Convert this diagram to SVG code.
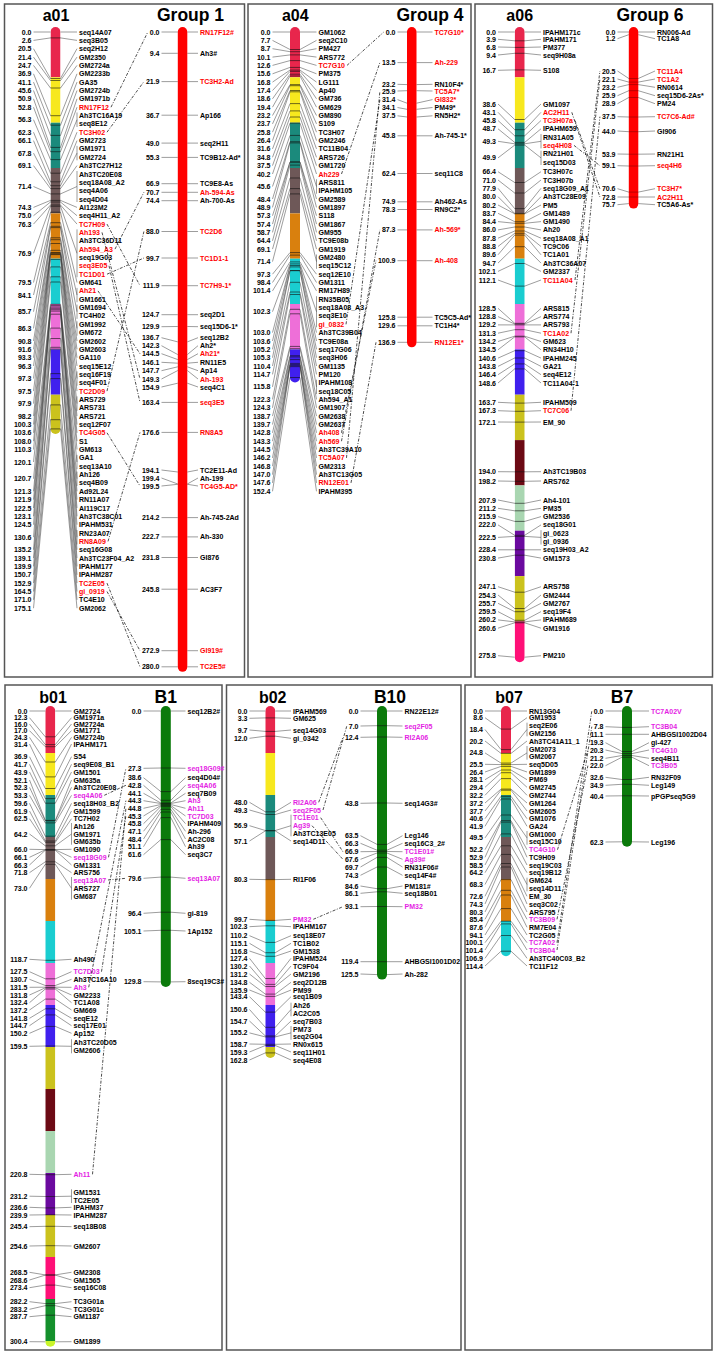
<svg xmlns="http://www.w3.org/2000/svg" width="717" height="1355" viewBox="0 0 717 1355">
<style>
text{font-family:"Liberation Sans",Arial,Helvetica,sans-serif;font-weight:700;font-size:7px;dominant-baseline:central;fill:#000}
.e{text-anchor:end}
.r{fill:#f00}
.p{fill:#e41ee4}
.t{font-size:16px;text-anchor:middle;dominant-baseline:alphabetic}
.gt{font-size:17.5px}
.f{stroke:#3a3a3a;stroke-width:.5;fill:none}
.k{stroke:#111;stroke-width:.6;fill:none}
.kr{stroke:#700;stroke-width:.5;fill:none}
.cn{stroke:#111;stroke-width:.75;fill:none;stroke-dasharray:3 1.5 1 1.5}
.bd{fill:none;stroke:#555;stroke-width:1.5}
.c0{fill:#e8264c}.c1{fill:#f7e81e}.c2{fill:#1b8a7c}.c3{fill:#6e5858}.c4{fill:#d9800e}.c5{fill:#1acdd0}.c6{fill:#ee6fd8}.c7{fill:#4020ee}.c8{fill:#cbc21d}.c9{fill:#6c0a14}.c10{fill:#a9d6b1}.c11{fill:#6b0a9f}.c12{fill:#ff1077}.c13{fill:#14902c}.c14{fill:#c9f52a}
.gr{fill:#f00}.gb{fill:#0b7a0b}
</style>
<defs>
<clipPath id="ca01"><rect x="50.5" y="27" width="10" height="406.9" rx="5"/></clipPath>
<clipPath id="ca04"><rect x="290" y="27" width="10" height="355.5" rx="5"/></clipPath>
<clipPath id="ca06"><rect x="514.7" y="27" width="10" height="635.2" rx="5"/></clipPath>
<clipPath id="cb01"><rect x="45.3" y="706" width="10" height="640.8" rx="5"/></clipPath>
<clipPath id="cb02"><rect x="265.3" y="706" width="10" height="351.9" rx="5"/></clipPath>
<clipPath id="cb07"><rect x="501" y="706" width="10" height="250.2" rx="5"/></clipPath>
</defs>
<rect x="0" y="0" width="717" height="1355" fill="#fff"/>
<g id="panels">
<rect class="bd" x="4.5" y="4" width="240" height="673"/>
<rect class="bd" x="248" y="4" width="223" height="673"/>
<rect class="bd" x="475" y="4" width="237.5" height="673"/>
<rect class="bd" x="5" y="685" width="217" height="665"/>
<rect class="bd" x="226.5" y="685" width="234.5" height="665"/>
<rect class="bd" x="465" y="685" width="247" height="665"/>
</g>

<g id="a01">
<text class="t" x="56" y="21">a01</text>
<g clip-path="url(#ca01)">
<rect class="c0" x="50.5" y="27" width="10" height="50.3"/><rect class="c1" x="50.5" y="77.3" width="10" height="45.4"/><rect class="c2" x="50.5" y="122.7" width="10" height="45.3"/><rect class="c3" x="50.5" y="168" width="10" height="45.4"/><rect class="c4" x="50.5" y="213.4" width="10" height="45.3"/><rect class="c5" x="50.5" y="258.7" width="10" height="45.3"/><rect class="c6" x="50.5" y="304" width="10" height="45.4"/><rect class="c7" x="50.5" y="349.4" width="10" height="45.3"/><rect class="c8" x="50.5" y="394.7" width="10" height="45"/>
</g>
<path class="k" d="M50.5 37.9h10M50.5 78.5h10M50.5 80.5h10M50.5 88h10M50.5 115.7h10M50.5 125.2h10M50.5 135.4h10M50.5 147.4h10M50.5 151.7h10M50.5 159.6h10M50.5 173.2h10M50.5 181.8h10M50.5 185.7h10M50.5 188.6h10M50.5 193.9h10M50.5 200.4h10M50.5 202h10M50.5 205h10M50.5 206.3h10M50.5 212.2h10M50.5 222.7h10M50.5 226.3h10M50.5 227.6h10M50.5 237.8h10M50.5 239.7h10M50.5 243.5h10M50.5 250.3h10M50.5 252.6h10M50.5 253h10M50.5 253.9h10M50.5 254.6h10M50.5 259.4h10M50.5 266.9h10M50.5 276.8h10M50.5 282h10M50.5 304.3h10M50.5 305.6h10M50.5 307h10M50.5 308.3h10M50.5 309.7h10M50.5 311.1h10M50.5 314.2h10M50.5 328.1h10M50.5 338.5h10M50.5 347.3h10M50.5 349.1h10M50.5 373.6h10M50.5 378.6h10M50.5 404.9h10M50.5 419.7h10M50.5 428.9h10"/>
<path class="f" d="M33.5 32L50.5 32M33.5 40.4L50.5 37.9M33.5 48.7L50.5 78.5M33.5 57.1L50.5 80.5M33.5 65.4L50.5 88M33.5 73.8L50.5 115.7M33.5 82.1L50.5 125.2M33.5 90.5L50.5 135.4M33.5 98.8L50.5 147.4M33.5 107.2L50.5 151.7M33.5 119.7L50.5 159.6M33.5 132.2L50.5 173.2M33.5 140.6L50.5 181.8M33.5 153.1L50.5 185.7M33.5 165.6L50.5 188.6M33.5 186.5L50.5 193.9M33.5 207.4L50.5 200.4M33.5 215.7L50.5 202M33.5 224.1L50.5 205M33.5 253.3L50.5 206.3M33.5 282.5L50.5 212.2M33.5 295L50.5 222.7M33.5 311.7L50.5 226.3M33.5 328.4L50.5 227.6M33.5 341L50.5 237.8M33.5 349.3L50.5 239.7M33.5 357.7L50.5 243.5M33.5 366L50.5 250.3M33.5 378.5L50.5 252.6M33.5 391.1L50.5 253M33.5 403.6L50.5 253.9M33.5 416.1L50.5 254.6M33.5 424.5L50.5 259.4M33.5 432.8L50.5 266.9M33.5 441.2L50.5 276.8M33.5 449.5L50.5 282M33.5 462L50.5 304.3M33.5 478.7L50.5 305.6M33.5 491.3L50.5 307M33.5 499.6L50.5 308.3M33.5 508L50.5 309.7M33.5 516.3L50.5 311.1M33.5 524.7L50.5 314.2M33.5 537.2L50.5 328.1M33.5 549.7L50.5 338.5M33.5 558.1L50.5 347.3M33.5 566.4L50.5 349.1M33.5 574.8L50.5 373.6M33.5 583.1L50.5 378.6M33.5 591.5L50.5 404.9M33.5 599.8L50.5 419.7M33.5 608.2L50.5 428.9"/>
<path class="f" d="M60.5 32L77 32M60.5 37.9L77 40.4M60.5 78.5L77 48.7M60.5 80.5L77 57.1M60.5 88L77 65.4M60.5 115.7L77 73.8M60.5 125.2L77 82.1M60.5 135.4L77 90.5M60.5 147.4L77 98.8M60.5 151.7L77 107.2M60.5 159.6L77 119.7M60.5 173.2L77 132.2M60.5 181.8L77 140.6M60.5 185.7L77 153.1M60.5 188.6L77 165.6M60.5 193.9L77 186.5M60.5 200.4L77 207.4M60.5 202L77 215.7M60.5 205L77 224.1M60.5 206.3L77 253.3M60.5 212.2L77 282.5M60.5 222.7L77 295M60.5 226.3L77 311.7M60.5 227.6L77 328.4M60.5 237.8L77 341M60.5 239.7L77 349.3M60.5 243.5L77 357.7M60.5 250.3L77 366M60.5 252.6L77 378.5M60.5 253L77 391.1M60.5 253.9L77 403.6M60.5 254.6L77 416.1M60.5 259.4L77 424.5M60.5 266.9L77 432.8M60.5 276.8L77 441.2M60.5 282L77 449.5M60.5 304.3L77 462M60.5 305.6L77 478.7M60.5 307L77 491.3M60.5 308.3L77 499.6M60.5 309.7L77 508M60.5 311.1L77 516.3M60.5 314.2L77 524.7M60.5 328.1L77 537.2M60.5 338.5L77 549.7M60.5 347.3L77 558.1M60.5 349.1L77 566.4M60.5 373.6L77 574.8M60.5 378.6L77 583.1M60.5 404.9L77 591.5M60.5 419.7L77 599.8M60.5 428.9L77 608.2"/>
<path class="f" d="M77 112.5V127M77 145.9V160.3M77 171V202M77 229.4V277.2M77 287.9V302.2M77 304.6V318.9M77 321.3V335.6M77 371.4V385.7M77 396.4V410.8M77 454.9V469.2M77 471.6V485.9M77 530V544.4"/>
<g class="e" transform="translate(31.5)"><text y="32">0.0</text><text y="40.4">2.6</text><text y="48.7">20.5</text><text y="57.1">21.4</text><text y="65.4">24.7</text><text y="73.8">36.9</text><text y="82.1">41.1</text><text y="90.5">45.6</text><text y="98.8">50.9</text><text y="107.2">52.8</text><text y="119.7">56.3</text><text y="132.2">62.3</text><text y="140.6">66.1</text><text y="153.1">67.8</text><text y="165.6">69.1</text><text y="186.5">71.4</text><text y="207.4">74.3</text><text y="215.7">75.0</text><text y="224.1">76.3</text><text y="253.3">76.9</text><text y="282.5">79.5</text><text y="295">84.1</text><text y="311.7">85.7</text><text y="328.4">86.3</text><text y="341">90.8</text><text y="349.3">91.6</text><text y="357.7">93.3</text><text y="366">96.3</text><text y="378.5">97.3</text><text y="391.1">97.5</text><text y="403.6">97.9</text><text y="416.1">98.2</text><text y="424.5">100.3</text><text y="432.8">103.6</text><text y="441.2">108.0</text><text y="449.5">110.3</text><text y="462">120.1</text><text y="478.7">120.7</text><text y="491.3">121.3</text><text y="499.6">121.9</text><text y="508">122.5</text><text y="516.3">123.1</text><text y="524.7">124.5</text><text y="537.2">130.6</text><text y="549.7">135.2</text><text y="558.1">139.1</text><text y="566.4">139.9</text><text y="574.8">150.7</text><text y="583.1">152.9</text><text y="591.5">164.5</text><text y="599.8">171.0</text><text y="608.2">175.1</text></g>
<g transform="translate(79)"><text y="32">seq14A07</text><text y="40.4">seq3B05</text><text y="48.7">seq2H12</text><text y="57.1">GM2350</text><text y="65.4">GM2724a</text><text y="73.8">GM2233b</text><text y="82.1">GA35</text><text y="90.5">GM2724b</text><text y="98.8">GM1971b</text><text y="107.2" class="r">RN17F12</text><text y="115.5">Ah3TC16A19</text><text y="123.9">seq8E12</text><text y="132.2" class="r">TC3H02</text><text y="140.6">GM2723</text><text y="148.9">GM1971</text><text y="157.3">GM2724</text><text y="165.6">Ah3TC27H12</text><text y="174">Ah3TC20E08</text><text y="182.3">seq18A08_A2</text><text y="190.7">seq4A06</text><text y="199">seq4D04</text><text y="207.4">AI123M2</text><text y="215.7">seq4H11_A2</text><text y="224.1" class="r">TC7H09</text><text y="232.4" class="r">Ah193</text><text y="240.8">Ah3TC36D11</text><text y="249.1" class="r">Ah594_A3</text><text y="257.5">seq19G03</text><text y="265.8" class="r">seq3E05</text><text y="274.2" class="r">TC1D01</text><text y="282.5">GM641</text><text y="290.9" class="r">Ah21</text><text y="299.2">GM1661</text><text y="307.6">GM1694</text><text y="315.9">TC4H02</text><text y="324.3">GM1992</text><text y="332.6">GM672</text><text y="341">GM2602</text><text y="349.3">GM2603</text><text y="357.7">GA110</text><text y="366">seq15E12</text><text y="374.4">seq16F19</text><text y="382.7">seq4F01</text><text y="391.1" class="r">TC2D09</text><text y="399.4">ARS729</text><text y="407.8">ARS731</text><text y="416.1">ARS721</text><text y="424.5">seq12F07</text><text y="432.8" class="r">TC4G05</text><text y="441.2">S1</text><text y="449.5">GM613</text><text y="457.9">GA1</text><text y="466.2">seq13A10</text><text y="474.6">Ah126</text><text y="482.9">seq4B09</text><text y="491.3">Ad92L24</text><text y="499.6">RN11A07</text><text y="508">AI119C17</text><text y="516.3">Ah3TC38C01</text><text y="524.7">IPAHM531</text><text y="533">RN23A07</text><text y="541.4" class="r">RN8A09</text><text y="549.7">seq16G08</text><text y="558.1">Ah3TC23F04_A2</text><text y="566.4">IPAHM177</text><text y="574.8">IPAHM287</text><text y="583.1" class="r">TC2E05</text><text y="591.5" class="r">gi_0919</text><text y="599.8">TC4E10</text><text y="608.2">GM2062</text></g>
</g>

<g id="group1">
<text class="t gt" x="190.5" y="21">Group 1</text>
<path class="f" d="M161.5 32L177.8 32M161.5 53.3L177.8 53.3M161.5 81.6L177.8 81.6M161.5 115.2L177.8 115.2M161.5 143.1L177.8 143.1M161.5 157.4L177.8 157.4M161.5 183.7L177.8 183.7M161.5 192.3L177.8 192.3M161.5 200.7L177.8 200.7M161.5 231.5L177.8 231.5M161.5 258L177.8 258M161.5 285.7L177.8 285.7M161.5 314.7L177.8 314.7M161.5 326.7L177.8 326.5M161.5 337.7L177.8 341.9M161.5 345.7L177.8 354.6M161.5 353.7L177.8 359.6M161.5 362.3L177.8 363.2M161.5 370.7L177.8 366.8M161.5 379L177.8 370.5M161.5 387L177.8 383.2M161.5 402.4L177.8 402.4M161.5 432.4L177.8 432.4M161.5 470L177.8 472M161.5 478L177.8 484M161.5 486L177.8 484.3M161.5 517.6L177.8 517.6M161.5 536.9L177.8 536.9M161.5 557.5L177.8 557.5M161.5 589.2L177.8 589.2M161.5 650.7L177.8 650.7M161.5 666.8L177.8 666.8"/>
<path class="f" d="M187.3 32L198 32M187.3 53.3L198 53.3M187.3 81.6L198 81.6M187.3 115.2L198 115.2M187.3 143.1L198 143.1M187.3 157.4L198 157.4M187.3 183.7L198 183.7M187.3 192.3L198 192.3M187.3 200.7L198 200.7M187.3 231.5L198 231.5M187.3 258L198 258M187.3 285.7L198 285.7M187.3 314.7L198 314.7M187.3 326.5L198 326.7M187.3 341.9L198 337.7M187.3 354.6L198 345.7M187.3 359.6L198 353.7M187.3 363.2L198 362.3M187.3 366.8L198 370.7M187.3 370.5L198 379M187.3 383.2L198 387M187.3 402.4L198 402.4M187.3 432.4L198 432.4M187.3 472L198 470M187.3 484L198 478M187.3 484.3L198 486M187.3 517.6L198 517.6M187.3 536.9L198 536.9M187.3 557.5L198 557.5M187.3 589.2L198 589.2M187.3 650.7L198 650.7M187.3 666.8L198 666.8"/>
<rect class="gr" x="177.8" y="27" width="9.5" height="644.8" rx="4.75"/>
<g class="e" transform="translate(159.5)"><text y="32">0.0</text><text y="53.3">9.4</text><text y="81.6">21.9</text><text y="115.2">36.7</text><text y="143.1">49.0</text><text y="157.4">55.3</text><text y="183.7">66.9</text><text y="192.3">70.7</text><text y="200.7">74.4</text><text y="231.5">88.0</text><text y="258">99.7</text><text y="285.7">111.9</text><text y="314.7">124.7</text><text y="326.7">129.9</text><text y="337.7">136.7</text><text y="345.7">142.3</text><text y="353.7">144.5</text><text y="362.3">146.1</text><text y="370.7">147.7</text><text y="379">149.3</text><text y="387">154.9</text><text y="402.4">163.4</text><text y="432.4">176.6</text><text y="470">194.1</text><text y="478">199.4</text><text y="486">199.5</text><text y="517.6">214.2</text><text y="536.9">222.7</text><text y="557.5">231.8</text><text y="589.2">245.8</text><text y="650.7">272.9</text><text y="666.8">280.0</text></g>
<g transform="translate(200)"><text y="32" class="r">RN17F12#</text><text y="53.3">Ah3#</text><text y="81.6" class="r">TC3H2-Ad</text><text y="115.2">Ap166</text><text y="143.1">seq2H11</text><text y="157.4">TC9B12-Ad*</text><text y="183.7">TC9E8-As</text><text y="192.3" class="r">Ah-594-As</text><text y="200.7">Ah-700-As</text><text y="231.5" class="r">TC2D6</text><text y="258" class="r">TC1D1-1</text><text y="285.7" class="r">TC7H9-1*</text><text y="314.7">seq2D1</text><text y="326.7">seq15D6-1*</text><text y="337.7">seq12B2</text><text y="345.7">Ah2*</text><text y="353.7" class="r">Ah21*</text><text y="362.3">RN11E5</text><text y="370.7">Ap14</text><text y="379" class="r">Ah-193</text><text y="387">seq4C1</text><text y="402.4" class="r">seq3E5</text><text y="432.4" class="r">RN8A5</text><text y="470">TC2E11-Ad</text><text y="478">Ah-199</text><text y="486" class="r">TC4G5-AD*</text><text y="517.6">Ah-745-2Ad</text><text y="536.9">Ah-330</text><text y="557.5">GI876</text><text y="589.2">AC3F7</text><text y="650.7" class="r">GI919#</text><text y="666.8" class="r">TC2E5#</text></g>
</g>

<g id="a04">
<text class="t" x="295.3" y="21">a04</text>
<g clip-path="url(#ca04)">
<rect class="c0" x="290" y="27" width="10" height="50.3"/><rect class="c1" x="290" y="77.3" width="10" height="45.4"/><rect class="c2" x="290" y="122.7" width="10" height="45.3"/><rect class="c3" x="290" y="168" width="10" height="45.4"/><rect class="c4" x="290" y="213.4" width="10" height="45.3"/><rect class="c5" x="290" y="258.7" width="10" height="45.3"/><rect class="c6" x="290" y="304" width="10" height="45.4"/><rect class="c7" x="290" y="349.4" width="10" height="40"/>
</g>
<path class="k" d="M290 49.5h10M290 51.7h10M290 54.9h10M290 60.6h10M290 67.4h10M290 70.1h10M290 71.4h10M290 74.2h10M290 76h10M290 84.6h10M290 85.7h10M290 90.5h10M290 91.8h10M290 103.6h10M290 110.9h10M290 117h10M290 123.1h10M290 135.4h10M290 141.7h10M290 142.9h10M290 161.9h10M290 162.1h10M290 165.1h10M290 178h10M290 188.6h10M290 193.9h10M290 252.6h10M290 255.1h10M290 261.9h10M290 263.9h10M290 265.5h10M290 266.9h10M290 270.5h10M290 270.7h10M290 282.3h10M290 292h10M290 294.5h10M290 309.3h10M290 313.8h10M290 346.4h10M290 348.7h10M290 355.7h10M290 356.9h10M290 359.6h10M290 363.4h10M290 364.8h10M290 365.2h10M290 366.6h10M290 377.5h10"/>
<path class="f" d="M272.5 32L290 32M272.5 40.4L290 49.5M272.5 48.7L290 51.7M272.5 57.1L290 54.9M272.5 65.4L290 60.6M272.5 73.8L290 67.4M272.5 82.1L290 70.1M272.5 90.5L290 71.4M272.5 98.8L290 74.2M272.5 107.2L290 76M272.5 115.5L290 84.6M272.5 123.9L290 85.7M272.5 132.2L290 90.5M272.5 140.6L290 91.8M272.5 148.9L290 103.6M272.5 157.3L290 110.9M272.5 165.6L290 117M272.5 174L290 123.1M272.5 186.5L290 135.4M272.5 199L290 141.7M272.5 207.4L290 142.9M272.5 215.7L290 161.9M272.5 224.1L290 162.1M272.5 232.4L290 165.1M272.5 240.8L290 178M272.5 249.1L290 188.6M272.5 261.6L290 193.9M272.5 274.2L290 252.6M272.5 282.5L290 255.1M272.5 290.9L290 261.9M272.5 311.7L290 263.9M272.5 332.6L290 265.5M272.5 341L290 266.9M272.5 349.3L290 270.5M272.5 357.7L290 270.7M272.5 366L290 282.3M272.5 374.4L290 292M272.5 386.9L290 294.5M272.5 399.4L290 309.3M272.5 407.8L290 313.8M272.5 416.1L290 346.4M272.5 424.5L290 348.7M272.5 432.8L290 355.7M272.5 441.2L290 356.9M272.5 449.5L290 359.6M272.5 457.9L290 363.4M272.5 466.2L290 364.8M272.5 474.6L290 365.2M272.5 482.9L290 366.6M272.5 491.3L290 377.5"/>
<path class="f" d="M300 32L316.5 32M300 49.5L316.5 40.4M300 51.7L316.5 48.7M300 54.9L316.5 57.1M300 60.6L316.5 65.4M300 67.4L316.5 73.8M300 70.1L316.5 82.1M300 71.4L316.5 90.5M300 74.2L316.5 98.8M300 76L316.5 107.2M300 84.6L316.5 115.5M300 85.7L316.5 123.9M300 90.5L316.5 132.2M300 91.8L316.5 140.6M300 103.6L316.5 148.9M300 110.9L316.5 157.3M300 117L316.5 165.6M300 123.1L316.5 174M300 135.4L316.5 186.5M300 141.7L316.5 199M300 142.9L316.5 207.4M300 161.9L316.5 215.7M300 162.1L316.5 224.1M300 165.1L316.5 232.4M300 178L316.5 240.8M300 188.6L316.5 249.1M300 193.9L316.5 261.6M300 252.6L316.5 274.2M300 255.1L316.5 282.5M300 261.9L316.5 290.9M300 263.9L316.5 311.7M300 265.5L316.5 332.6M300 266.9L316.5 341M300 270.5L316.5 349.3M300 270.7L316.5 357.7M300 282.3L316.5 366M300 292L316.5 374.4M300 294.5L316.5 386.9M300 309.3L316.5 399.4M300 313.8L316.5 407.8M300 346.4L316.5 416.1M300 348.7L316.5 424.5M300 355.7L316.5 432.8M300 356.9L316.5 441.2M300 359.6L316.5 449.5M300 363.4L316.5 457.9M300 364.8L316.5 466.2M300 365.2L316.5 474.6M300 366.6L316.5 482.9M300 377.5L316.5 491.3"/>
<path class="f" d="M316.5 179.3V193.7M316.5 254.5V268.8M316.5 296.2V327.3M316.5 379.7V394.1"/>
<g class="e" transform="translate(270.5)"><text y="32">0.0</text><text y="40.4">7.7</text><text y="48.7">8.7</text><text y="57.1">10.1</text><text y="65.4">12.6</text><text y="73.8">15.6</text><text y="82.1">16.8</text><text y="90.5">17.4</text><text y="98.8">18.6</text><text y="107.2">19.4</text><text y="115.5">23.2</text><text y="123.9">23.7</text><text y="132.2">25.8</text><text y="140.6">26.4</text><text y="148.9">31.6</text><text y="157.3">34.8</text><text y="165.6">37.5</text><text y="174">40.2</text><text y="186.5">45.6</text><text y="199">48.4</text><text y="207.4">48.9</text><text y="215.7">57.3</text><text y="224.1">57.4</text><text y="232.4">58.7</text><text y="240.8">64.4</text><text y="249.1">69.1</text><text y="261.6">71.4</text><text y="274.2">97.3</text><text y="282.5">98.4</text><text y="290.9">101.4</text><text y="311.7">102.3</text><text y="332.6">103.0</text><text y="341">103.6</text><text y="349.3">105.2</text><text y="357.7">105.3</text><text y="366">110.4</text><text y="374.4">114.7</text><text y="386.9">115.8</text><text y="399.4">122.3</text><text y="407.8">124.3</text><text y="416.1">138.7</text><text y="424.5">139.7</text><text y="432.8">142.8</text><text y="441.2">143.3</text><text y="449.5">144.5</text><text y="457.9">146.2</text><text y="466.2">146.8</text><text y="474.6">147.0</text><text y="482.9">147.6</text><text y="491.3">152.4</text></g>
<g transform="translate(318.5)"><text y="32">GM1062</text><text y="40.4">seq2C10</text><text y="48.7">PM427</text><text y="57.1">ARS772</text><text y="65.4" class="r">TC7G10</text><text y="73.8">PM375</text><text y="82.1">LG111</text><text y="90.5">Ap40</text><text y="98.8">GM736</text><text y="107.2">GM629</text><text y="115.5">GM890</text><text y="123.9">S109</text><text y="132.2">TC3H07</text><text y="140.6">GM2246</text><text y="148.9">TC11B04</text><text y="157.3">ARS726</text><text y="165.6">GM1720</text><text y="174" class="r">Ah229</text><text y="182.3">ARS811</text><text y="190.7">IPAHM105</text><text y="199">GM2589</text><text y="207.4">GM1897</text><text y="215.7">S118</text><text y="224.1">GM1867</text><text y="232.4">GM955</text><text y="240.8">TC9E08b</text><text y="249.1">GM1919</text><text y="257.5">GM2480</text><text y="265.8">seq15C12</text><text y="274.2">seq12E10</text><text y="282.5">GM1311</text><text y="290.9">RM17H89</text><text y="299.2">RN35B05</text><text y="307.6">seq18A08_A3</text><text y="315.9">seq3E10</text><text y="324.3" class="r">gi_0832</text><text y="332.6">Ah3TC39B04</text><text y="341">TC9E08a</text><text y="349.3">seq17G06</text><text y="357.7">seq3H06</text><text y="366">GM1135</text><text y="374.4">PM120</text><text y="382.7">IPAHM108</text><text y="391.1">seq18C05</text><text y="399.4">Ah594_A1</text><text y="407.8">GM1907</text><text y="416.1">GM2638</text><text y="424.5">GM2637</text><text y="432.8" class="r">Ah408</text><text y="441.2" class="r">Ah569</text><text y="449.5">Ah3TC39A10</text><text y="457.9" class="r">TC5A07</text><text y="466.2">GM2313</text><text y="474.6">Ah3TC13G05</text><text y="482.9" class="r">RN12E01</text><text y="491.3">IPAHM395</text></g>
</g>

<g id="group4">
<text class="t gt" x="430" y="21">Group 4</text>
<path class="f" d="M397.5 32L407 32M397.5 62.6L407 62.6M397.5 84.3L407 84.6M397.5 91L407 90.7M397.5 99.6L407 103.2M397.5 107.5L407 109.3M397.5 115.8L407 117M397.5 135.8L407 135.8M397.5 173.5L407 173.5M397.5 201.8L407 201.8M397.5 209.5L407 209.5M397.5 229.9L407 229.9M397.5 260.7L407 260.7M397.5 317.2L407 317.2M397.5 325.8L407 325.8M397.5 342.3L407 342.3M416.5 32L432.5 32M416.5 62.6L432.5 62.6M416.5 84.6L432.5 84.3M416.5 90.7L432.5 91M416.5 103.2L432.5 99.6M416.5 109.3L432.5 107.5M416.5 117L432.5 115.8M416.5 135.8L432.5 135.8M416.5 173.5L432.5 173.5M416.5 201.8L432.5 201.8M416.5 209.5L432.5 209.5M416.5 229.9L432.5 229.9M416.5 260.7L432.5 260.7M416.5 317.2L432.5 317.2M416.5 325.8L432.5 325.8M416.5 342.3L432.5 342.3"/>
<rect class="gr" x="407" y="27" width="9.5" height="320.3" rx="4.75"/>
<g class="e" transform="translate(395.5)"><text y="32">0.0</text><text y="62.6">13.5</text><text y="84.3">23.2</text><text y="91">25.9</text><text y="99.6">31.4</text><text y="107.5">34.1</text><text y="115.8">37.5</text><text y="135.8">45.8</text><text y="173.5">62.4</text><text y="201.8">74.9</text><text y="209.5">78.3</text><text y="229.9">87.3</text><text y="260.7">100.9</text><text y="317.2">125.8</text><text y="325.8">129.6</text><text y="342.3">136.9</text></g>
<g transform="translate(434.5)"><text y="32" class="r">TC7G10*</text><text y="62.6" class="r">Ah-229</text><text y="84.3">RN10F4*</text><text y="91" class="r">TC5A7*</text><text y="99.6" class="r">GI832*</text><text y="107.5">PM49*</text><text y="115.8">RN5H2*</text><text y="135.8">Ah-745-1*</text><text y="173.5">seq11C8</text><text y="201.8">Ah462-As</text><text y="209.5">RN9C2*</text><text y="229.9" class="r">Ah-569*</text><text y="260.7" class="r">Ah-408</text><text y="317.2">TC5C5-Ad*</text><text y="325.8">TC1H4*</text><text y="342.3" class="r">RN12E1*</text></g>
</g>

<g id="a06">
<text class="t" x="519.7" y="21">a06</text>
<g clip-path="url(#ca06)">
<rect class="c0" x="514.7" y="27" width="10" height="50.3"/><rect class="c1" x="514.7" y="77.3" width="10" height="45.4"/><rect class="c2" x="514.7" y="122.7" width="10" height="45.3"/><rect class="c3" x="514.7" y="168" width="10" height="45.4"/><rect class="c4" x="514.7" y="213.4" width="10" height="45.3"/><rect class="c5" x="514.7" y="258.7" width="10" height="45.3"/><rect class="c6" x="514.7" y="304" width="10" height="45.4"/><rect class="c7" x="514.7" y="349.4" width="10" height="45.3"/><rect class="c8" x="514.7" y="394.7" width="10" height="45.4"/><rect class="c9" x="514.7" y="440.1" width="10" height="45.3"/><rect class="c10" x="514.7" y="485.4" width="10" height="45.3"/><rect class="c11" x="514.7" y="530.7" width="10" height="45.4"/><rect class="c8" x="514.7" y="576.1" width="10" height="45.3"/><rect class="c12" x="514.7" y="621.4" width="10" height="45"/>
</g>
<path class="k" d="M514.7 40.8h10M514.7 47.4h10M514.7 53.3h10M514.7 69.9h10M514.7 119.5h10M514.7 129.7h10M514.7 135.8h10M514.7 142.4h10M514.7 143.8h10M514.7 145.1h10M514.7 182.5h10M514.7 193h10M514.7 208.6h10M514.7 213.4h10M514.7 213.8h10M514.7 221.7h10M514.7 223.3h10M514.7 227h10M514.7 231h10M514.7 233.3h10M514.7 235.1h10M514.7 246.7h10M514.7 263.5h10M514.7 286.1h10M514.7 323.3h10M514.7 324h10M514.7 324.9h10M514.7 329.7h10M514.7 336.2h10M514.7 336.9h10M514.7 350.7h10M514.7 358h10M514.7 363.9h10M514.7 368.9h10M514.7 403.1h10M514.7 411.3h10M514.7 422.1h10M514.7 471.8h10M514.7 481.3h10M514.7 503.3h10M514.7 510.8h10M514.7 521.4h10M514.7 535.3h10M514.7 536.4h10M514.7 549.8h10M514.7 555.2h10M514.7 592.2h10M514.7 608.5h10M514.7 611.7h10M514.7 620.3h10M514.7 621.9h10M514.7 622.8h10"/>
<path class="f" d="M498 32L514.7 32M498 39.3L514.7 40.8M498 47L514.7 47.4M498 55L514.7 53.3M498 70.3L514.7 69.9M498 104L514.7 119.5M498 112.3L514.7 129.7M498 120.5L514.7 135.8M498 128.8L514.7 142.4M498 141.3L514.7 143.8M498 157.9L514.7 145.1M498 171.7L514.7 182.5M498 180L514.7 193M498 188.3L514.7 208.6M498 196.7L514.7 213.4M498 205L514.7 213.8M498 213.3L514.7 221.7M498 221.6L514.7 223.3M498 229.9L514.7 227M498 238.2L514.7 231M498 246.5L514.7 233.3M498 254.8L514.7 235.1M498 263.1L514.7 246.7M498 271.4L514.7 263.5M498 280L514.7 286.1M498 308.3L514.7 323.3M498 316.6L514.7 324M498 324.9L514.7 324.9M498 333.2L514.7 329.7M498 341.5L514.7 336.2M498 349.8L514.7 336.9M498 358.1L514.7 350.7M498 366.4L514.7 358M498 374.7L514.7 363.9M498 383L514.7 368.9M498 402.3L514.7 403.1M498 410.7L514.7 411.3M498 422L514.7 422.1M498 471.7L514.7 471.8M498 481L514.7 481.3M498 500L514.7 503.3M498 508.3L514.7 510.8M498 516.6L514.7 521.4M498 524.9L514.7 535.3M498 537.4L514.7 536.4M498 549.8L514.7 549.8M498 558.1L514.7 555.2M498 586.7L514.7 592.2M498 595L514.7 608.5M498 603.3L514.7 611.7M498 611.6L514.7 620.3M498 619.9L514.7 621.9M498 628.2L514.7 622.8M498 655.7L514.7 657.2"/>
<path class="f" d="M524.7 32L541 32M524.7 40.8L541 39.3M524.7 47.4L541 47M524.7 53.3L541 55M524.7 69.9L541 70.3M524.7 119.5L541 104M524.7 129.7L541 112.3M524.7 135.8L541 120.5M524.7 142.4L541 128.8M524.7 143.8L541 141.3M524.7 145.1L541 157.9M524.7 182.5L541 171.7M524.7 193L541 180M524.7 208.6L541 188.3M524.7 213.4L541 196.7M524.7 213.8L541 205M524.7 221.7L541 213.3M524.7 223.3L541 221.6M524.7 227L541 229.9M524.7 231L541 238.2M524.7 233.3L541 246.5M524.7 235.1L541 254.8M524.7 246.7L541 263.1M524.7 263.5L541 271.4M524.7 286.1L541 280M524.7 323.3L541 308.3M524.7 324L541 316.6M524.7 324.9L541 324.9M524.7 329.7L541 333.2M524.7 336.2L541 341.5M524.7 336.9L541 349.8M524.7 350.7L541 358.1M524.7 358L541 366.4M524.7 363.9L541 374.7M524.7 368.9L541 383M524.7 403.1L541 402.3M524.7 411.3L541 410.7M524.7 422.1L541 422M524.7 471.8L541 471.7M524.7 481.3L541 481M524.7 503.3L541 500M524.7 510.8L541 508.3M524.7 521.4L541 516.6M524.7 535.3L541 524.9M524.7 536.4L541 537.4M524.7 549.8L541 549.8M524.7 555.2L541 558.1M524.7 592.2L541 586.7M524.7 608.5L541 595M524.7 611.7L541 603.3M524.7 620.3L541 611.6M524.7 621.9L541 619.9M524.7 622.8L541 628.2M524.7 657.2L541 655.7"/>
<path class="f" d="M541 134.1V148.4M541 150.7V165M541 530.2V544.5"/>
<g class="e" transform="translate(496)"><text y="32">0.0</text><text y="39.3">3.9</text><text y="47">6.8</text><text y="55">9.4</text><text y="70.3">16.7</text><text y="104">38.6</text><text y="112.3">43.1</text><text y="120.5">45.8</text><text y="128.8">48.7</text><text y="141.3">49.3</text><text y="157.9">49.9</text><text y="171.7">66.4</text><text y="180">71.0</text><text y="188.3">77.9</text><text y="196.7">80.0</text><text y="205">80.2</text><text y="213.3">83.7</text><text y="221.6">84.4</text><text y="229.9">86.0</text><text y="238.2">87.8</text><text y="246.5">88.8</text><text y="254.8">89.6</text><text y="263.1">94.7</text><text y="271.4">102.1</text><text y="280">112.1</text><text y="308.3">128.5</text><text y="316.6">128.8</text><text y="324.9">129.2</text><text y="333.2">131.3</text><text y="341.5">134.2</text><text y="349.8">134.5</text><text y="358.1">140.6</text><text y="366.4">143.8</text><text y="374.7">146.4</text><text y="383">148.6</text><text y="402.3">163.7</text><text y="410.7">167.3</text><text y="422">172.1</text><text y="471.7">194.0</text><text y="481">198.2</text><text y="500">207.9</text><text y="508.3">211.2</text><text y="516.6">215.9</text><text y="524.9">222.0</text><text y="537.4">222.5</text><text y="549.8">228.4</text><text y="558.1">230.8</text><text y="586.7">247.1</text><text y="595">254.3</text><text y="603.3">255.7</text><text y="611.6">259.5</text><text y="619.9">260.2</text><text y="628.2">260.6</text><text y="655.7">275.8</text></g>
<g transform="translate(543)"><text y="32">IPAHM171c</text><text y="39.3">IPAHM171</text><text y="47">PM377</text><text y="55">seq9H08a</text><text y="70.3">S108</text><text y="104">GM1097</text><text y="112.3" class="r">AC2H11</text><text y="120.5" class="r">TC3H07a</text><text y="128.8">IPAHM659</text><text y="137.1">RN31A05</text><text y="145.4" class="r">seq4H08</text><text y="153.7">RN21H01</text><text y="162">seq15D03</text><text y="171.7">TC3H07c</text><text y="180">TC3H07b</text><text y="188.3">seq18G09_A1</text><text y="196.7">Ah3TC28E09</text><text y="205">PM5</text><text y="213.3">GM1489</text><text y="221.6">GM1490</text><text y="229.9">Ah20</text><text y="238.2">seq18A08_A1</text><text y="246.5">TC9C06</text><text y="254.8">TC1A01</text><text y="263.1">Ah3TC36A07</text><text y="271.4">GM2337</text><text y="280" class="r">TC11A04</text><text y="308.3">ARS815</text><text y="316.6">ARS774</text><text y="324.9">ARS793</text><text y="333.2" class="r">TC1A02</text><text y="341.5">GM623</text><text y="349.8">RN34H10</text><text y="358.1">IPAHM245</text><text y="366.4">GA21</text><text y="374.7">seq4E12</text><text y="383">TC11A04-1</text><text y="402.3">IPAHM509</text><text y="410.7" class="r">TC7C06</text><text y="422">EM_90</text><text y="471.7">Ah3TC19B03</text><text y="481">ARS762</text><text y="500">Ah4-101</text><text y="508.3">PM35</text><text y="516.6">GM2536</text><text y="524.9">seq18G01</text><text y="533.2">gi_0623</text><text y="541.5">gi_0936</text><text y="549.8">seq19H03_A2</text><text y="558.1">GM1573</text><text y="586.7">ARS758</text><text y="595">GM2444</text><text y="603.3">GM2767</text><text y="611.6">seq19F4</text><text y="619.9">IPAHM689</text><text y="628.2">GM1916</text><text y="655.7">PM210</text></g>
</g>

<g id="group6">
<text class="t gt" x="650" y="21">Group 6</text>
<path class="f" d="M617.5 32L628.8 32M617.5 38.7L628.8 34.7M617.5 71L628.8 78.5M617.5 79L628.8 82.1M617.5 87.3L628.8 84.6M617.5 95.7L628.8 90.7M617.5 103.7L628.8 97.5M617.5 116.7L628.8 117M617.5 131L628.8 131.7M617.5 154L628.8 154.2M617.5 165.7L628.8 166M617.5 188.7L628.8 192.1M617.5 197L628.8 197M617.5 204.7L628.8 203.6M638.3 32L655 32M638.3 34.7L655 38.7M638.3 78.5L655 71M638.3 82.1L655 79M638.3 84.6L655 87.3M638.3 90.7L655 95.7M638.3 97.5L655 103.7M638.3 117L655 116.7M638.3 131.7L655 131M638.3 154.2L655 154M638.3 166L655 165.7M638.3 192.1L655 188.7M638.3 197L655 197M638.3 203.6L655 204.7"/>
<rect class="gr" x="628.8" y="27" width="9.5" height="181.6" rx="4.75"/>
<path class="kr" d="M628.8 78.5h9.5M628.8 82.1h9.5M628.8 84.6h9.5M628.8 90.7h9.5M628.8 97.5h9.5M628.8 117h9.5M628.8 131.7h9.5M628.8 154.2h9.5M628.8 166h9.5M628.8 192.1h9.5M628.8 197h9.5"/>
<g class="e" transform="translate(615.5)"><text y="32">0.0</text><text y="38.7">1.2</text><text y="71">20.5</text><text y="79">22.1</text><text y="87.3">23.2</text><text y="95.7">25.9</text><text y="103.7">28.9</text><text y="116.7">37.5</text><text y="131">44.0</text><text y="154">53.9</text><text y="165.7">59.1</text><text y="188.7">70.6</text><text y="197">72.8</text><text y="204.7">75.7</text></g>
<g transform="translate(657)"><text y="32">RN006-Ad</text><text y="38.7">TC1A8</text><text y="71" class="r">TC11A4</text><text y="79" class="r">TC1A2</text><text y="87.3">RN0614</text><text y="95.7">seq15D6-2As*</text><text y="103.7">PM24</text><text y="116.7" class="r">TC7C6-Ad#</text><text y="131">GI906</text><text y="154">RN21H1</text><text y="165.7" class="r">seq4H6</text><text y="188.7" class="r">TC3H7*</text><text y="197" class="r">AC2H11</text><text y="204.7">TC5A6-As*</text></g>
</g>

<g id="b01">
<text class="t" x="53" y="703">b01</text>
<g clip-path="url(#cb01)">
<rect class="c0" x="45.3" y="706" width="10" height="47"/><rect class="c1" x="45.3" y="753" width="10" height="42"/><rect class="c2" x="45.3" y="795" width="10" height="42"/><rect class="c3" x="45.3" y="837" width="10" height="42"/><rect class="c4" x="45.3" y="879" width="10" height="42"/><rect class="c5" x="45.3" y="921" width="10" height="42"/><rect class="c6" x="45.3" y="963" width="10" height="42"/><rect class="c7" x="45.3" y="1005" width="10" height="42"/><rect class="c8" x="45.3" y="1047" width="10" height="42"/><rect class="c9" x="45.3" y="1089" width="10" height="42"/><rect class="c10" x="45.3" y="1131" width="10" height="42"/><rect class="c11" x="45.3" y="1173" width="10" height="42"/><rect class="c8" x="45.3" y="1215" width="10" height="42"/><rect class="c12" x="45.3" y="1257" width="10" height="42"/><rect class="c13" x="45.3" y="1299" width="10" height="42"/><rect class="c14" x="45.3" y="1341" width="10" height="8"/>
</g>
<path class="k" d="M45.3 736.8h10M45.3 744.6h10M45.3 746.7h10M45.3 762h10M45.3 776.9h10M45.3 788.5h10M45.3 798.6h10M45.3 803.2h10M45.3 820.4h10M45.3 820.8h10M45.3 822.9h10M45.3 836.2h10M45.3 841h10M45.3 842.3h10M45.3 845.8h10M45.3 849.6h10M45.3 849.8h10M45.3 850.2h10M45.3 861.8h10M45.3 864.3h10M45.3 960.3h10M45.3 978.8h10M45.3 985.5h10M45.3 987.2h10M45.3 987.8h10M45.3 989h10M45.3 999.1h10M45.3 1008.8h10M45.3 1014.9h10M45.3 1026.4h10M45.3 1046h10M45.3 1174.7h10M45.3 1196.5h10M45.3 1207.9h10M45.3 1214.8h10M45.3 1226.3h10M45.3 1245.7h10M45.3 1274.9h10M45.3 1275.1h10M45.3 1285.1h10M45.3 1303.6h10M45.3 1305.7h10M45.3 1315.2h10"/>
<path class="f" d="M29.5 711L45.3 711M29.5 717.7L45.3 736.8M29.5 724L45.3 744.6M29.5 730.7L45.3 746.7M29.5 737.3L45.3 762M29.5 744L45.3 776.9M29.5 756.7L45.3 788.5M29.5 764.3L45.3 798.6M29.5 772L45.3 803.2M29.5 780L45.3 820.4M29.5 787.3L45.3 820.8M29.5 795.3L45.3 822.9M29.5 803.3L45.3 836.2M29.5 811L45.3 841M29.5 818.7L45.3 842.3M29.5 834L45.3 845.8M29.5 849.3L45.3 849.6M29.5 857.3L45.3 849.8M29.5 865L45.3 850.2M29.5 872.7L45.3 861.8M29.5 888.3L45.3 864.3M29.5 959.3L45.3 960.3M29.5 971.7L45.3 978.8M29.5 979.3L45.3 985.5M29.5 987.3L45.3 987.2M29.5 995L45.3 987.8M29.5 1002.7L45.3 989M29.5 1010L45.3 999.1M29.5 1018.3L45.3 1008.8M29.5 1025.7L45.3 1014.9M29.5 1033.3L45.3 1026.4M29.5 1046.3L45.3 1046M29.5 1174.3L45.3 1174.7M29.5 1196.2L45.3 1196.5M29.5 1207.3L45.3 1207.9M29.5 1215L45.3 1214.8M29.5 1226.7L45.3 1226.3M29.5 1246L45.3 1245.7M29.5 1272.3L45.3 1274.9M29.5 1280L45.3 1275.1M29.5 1287.7L45.3 1285.1M29.5 1301.7L45.3 1303.6M29.5 1309.3L45.3 1305.7M29.5 1316.7L45.3 1315.2M29.5 1341.7L45.3 1341.8"/>
<path class="f" d="M55.3 711L71.5 711M55.3 736.8L71.5 717.7M55.3 744.6L71.5 724M55.3 746.7L71.5 730.7M55.3 762L71.5 737.3M55.3 776.9L71.5 744M55.3 788.5L71.5 756.7M55.3 798.6L71.5 764.3M55.3 803.2L71.5 772M55.3 820.4L71.5 780M55.3 820.8L71.5 787.3M55.3 822.9L71.5 795.3M55.3 836.2L71.5 803.3M55.3 841L71.5 811M55.3 842.3L71.5 818.7M55.3 845.8L71.5 834M55.3 849.6L71.5 849.3M55.3 849.8L71.5 857.3M55.3 850.2L71.5 865M55.3 861.8L71.5 872.7M55.3 864.3L71.5 888.3M55.3 960.3L71.5 959.3M55.3 978.8L71.5 971.7M55.3 985.5L71.5 979.3M55.3 987.2L71.5 987.3M55.3 987.8L71.5 995M55.3 989L71.5 1002.7M55.3 999.1L71.5 1010M55.3 1008.8L71.5 1018.3M55.3 1014.9L71.5 1025.7M55.3 1026.4L71.5 1033.3M55.3 1046L71.5 1046.3M55.3 1174.7L71.5 1174.3M55.3 1196.5L71.5 1196.2M55.3 1207.9L71.5 1207.3M55.3 1214.8L71.5 1215M55.3 1226.3L71.5 1226.7M55.3 1245.7L71.5 1246M55.3 1274.9L71.5 1272.3M55.3 1275.1L71.5 1280M55.3 1285.1L71.5 1287.7M55.3 1303.6L71.5 1301.7M55.3 1305.7L71.5 1309.3M55.3 1315.2L71.5 1316.7M55.3 1341.8L71.5 1341.7"/>
<path class="f" d="M71.5 823V844.7M71.5 877V899.7M71.5 1039.3V1053.3M71.5 1189.3V1203"/>
<g class="e" transform="translate(27.5)"><text y="711">0.0</text><text y="717.7">12.3</text><text y="724">16.0</text><text y="730.7">17.0</text><text y="737.3">24.3</text><text y="744">31.4</text><text y="756.7">36.9</text><text y="764.3">41.7</text><text y="772">43.9</text><text y="780">52.1</text><text y="787.3">52.3</text><text y="795.3">53.3</text><text y="803.3">59.6</text><text y="811">61.9</text><text y="818.7">62.5</text><text y="834">64.2</text><text y="849.3">66.0</text><text y="857.3">66.1</text><text y="865">66.3</text><text y="872.7">71.8</text><text y="888.3">73.0</text><text y="959.3">118.7</text><text y="971.7">127.5</text><text y="979.3">130.7</text><text y="987.3">131.5</text><text y="995">131.8</text><text y="1002.7">132.4</text><text y="1010">137.2</text><text y="1018.3">141.8</text><text y="1025.7">144.7</text><text y="1033.3">150.2</text><text y="1046.3">159.5</text><text y="1174.3">220.8</text><text y="1196.2">231.2</text><text y="1207.3">236.6</text><text y="1215">239.9</text><text y="1226.7">245.4</text><text y="1246">254.6</text><text y="1272.3">268.5</text><text y="1280">268.6</text><text y="1287.7">273.4</text><text y="1301.7">282.2</text><text y="1309.3">283.2</text><text y="1316.7">287.7</text><text y="1341.7">300.4</text></g>
<g transform="translate(73.5)"><text y="711">GM2724</text><text y="717.7">GM1971a</text><text y="724">GM2724a</text><text y="730.7">GM1771</text><text y="737.3">GM2724b</text><text y="744">IPAHM171</text><text y="756.7">S54</text><text y="764.3">seq9E08_B1</text><text y="772">GM1501</text><text y="780">GM635a</text><text y="787.3">Ah3TC20E08</text><text y="795.3" class="p">seq4A06</text><text y="803.3">seq18H03_B2</text><text y="811">GM1599</text><text y="818.7">TC7H02</text><text y="826">Ah126</text><text y="834">GM1971</text><text y="841.7">GM635b</text><text y="849.3">GM1090</text><text y="857.3" class="p">seq18G09</text><text y="865">GM1331</text><text y="872.7">ARS756</text><text y="880" class="p">seq13A07</text><text y="888.3">ARS727</text><text y="896.7">GM687</text><text y="959.3">Ah490</text><text y="971.7" class="p">TC7D03</text><text y="979.3">Ah3TC16A10</text><text y="987.3" class="p">Ah3</text><text y="995">GM2233</text><text y="1002.7">TC1A08</text><text y="1010">GM669</text><text y="1018.3">seqE12</text><text y="1025.7">seq17E01</text><text y="1033.3">Ap152</text><text y="1042.3">Ah3TC20D05</text><text y="1050.3">GM2606</text><text y="1174.3" class="p">Ah11</text><text y="1192.3">GM1531</text><text y="1200">TC2E05</text><text y="1207.3">IPAHM37</text><text y="1215">IPAHM287</text><text y="1226.7">seq18B08</text><text y="1246">GM2607</text><text y="1272.3">GM2308</text><text y="1280">GM1565</text><text y="1287.7">seq16C08</text><text y="1301.7">TC3G01a</text><text y="1309.3">TC3G01c</text><text y="1316.7">GM1187</text><text y="1341.7">GM1899</text></g>
</g>

<g id="B1">
<text class="t gt" x="165.7" y="703">B1</text>
<path class="f" d="M143.5 711L160.8 711M143.5 768.3L160.8 768M143.5 777.7L160.8 791.6M143.5 785.3L160.8 800.3M143.5 793.3L160.8 803M143.5 800.7L160.8 803.5M143.5 808.3L160.8 804.5M143.5 816L160.8 805.5M143.5 823.7L160.8 806.6M143.5 831.3L160.8 809.3M143.5 839L160.8 812M143.5 846.7L160.8 817.6M143.5 854.7L160.8 839.6M143.5 878.3L160.8 877.1M143.5 913.3L160.8 912.2M143.5 931L160.8 930.3M143.5 981.7L160.8 981.9M170.8 711L185.5 711M170.8 768L185.5 768.3M170.8 791.6L185.5 777.7M170.8 800.3L185.5 785.3M170.8 803L185.5 793.3M170.8 803.5L185.5 800.7M170.8 804.5L185.5 808.3M170.8 805.5L185.5 816M170.8 806.6L185.5 823.7M170.8 809.3L185.5 831.3M170.8 812L185.5 839M170.8 817.6L185.5 846.7M170.8 839.6L185.5 854.7M170.8 877.1L185.5 878.3M170.8 912.2L185.5 913.3M170.8 930.3L185.5 931M170.8 981.9L185.5 981.7"/>
<rect class="gb" x="160.8" y="706" width="10" height="280.9" rx="5"/>
<path class="k" d="M160.8 768h10M160.8 791.6h10M160.8 800.3h10M160.8 803h10M160.8 803.5h10M160.8 804.5h10M160.8 805.5h10M160.8 806.6h10M160.8 809.3h10M160.8 812h10M160.8 817.6h10M160.8 839.6h10M160.8 877.1h10M160.8 912.2h10M160.8 930.3h10"/>
<g class="e" transform="translate(141.5)"><text y="711">0.0</text><text y="768.3">27.3</text><text y="777.7">38.6</text><text y="785.3">42.8</text><text y="793.3">44.1</text><text y="800.7">44.3</text><text y="808.3">44.8</text><text y="816">45.3</text><text y="823.7">45.8</text><text y="831.3">47.1</text><text y="839">48.4</text><text y="846.7">51.1</text><text y="854.7">61.6</text><text y="878.3">79.6</text><text y="913.3">96.4</text><text y="931">105.1</text><text y="981.7">129.8</text></g>
<g transform="translate(187.5)"><text y="711">seq12B2#</text><text y="768.3" class="p">seq18G09#</text><text y="777.7">seq4D04#</text><text y="785.3" class="p">seq4A06</text><text y="793.3">seq7B09</text><text y="800.7" class="p">Ah3</text><text y="808.3" class="p">Ah11</text><text y="816" class="p">TC7D03</text><text y="823.7">IPAHM409</text><text y="831.3">Ah-296</text><text y="839">AC2C08</text><text y="846.7">Ah39</text><text y="854.7">seq3C7</text><text y="878.3" class="p">seq13A07</text><text y="913.3">gi-819</text><text y="931">1Ap152</text><text y="981.7">8seq19C3#</text></g>
</g>

<g id="b02">
<text class="t" x="272.7" y="703">b02</text>
<g clip-path="url(#cb02)">
<rect class="c0" x="265.3" y="706" width="10" height="47"/><rect class="c1" x="265.3" y="753" width="10" height="42"/><rect class="c2" x="265.3" y="795" width="10" height="42"/><rect class="c3" x="265.3" y="837" width="10" height="42"/><rect class="c4" x="265.3" y="879" width="10" height="42"/><rect class="c5" x="265.3" y="921" width="10" height="42"/><rect class="c6" x="265.3" y="963" width="10" height="42"/><rect class="c7" x="265.3" y="1005" width="10" height="42"/><rect class="c8" x="265.3" y="1047" width="10" height="14"/>
</g>
<path class="k" d="M265.3 717.9h10M265.3 731.4h10M265.3 736.2h10M265.3 811.8h10M265.3 814.5h10M265.3 830.5h10M265.3 830.9h10M265.3 879.6h10M265.3 920.4h10M265.3 925.8h10M265.3 942.4h10M265.3 952.7h10M265.3 956.3h10M265.3 978.5h10M265.3 984.4h10M265.3 986.5h10M265.3 994.1h10M265.3 996.4h10M265.3 1012.1h10M265.3 1027.3h10M265.3 1035.9h10M265.3 1036.9h10M265.3 1044.3h10M265.3 1045.5h10M265.3 1052.9h10"/>
<path class="f" d="M249.5 711L265.3 711M249.5 718.3L265.3 717.9M249.5 730L265.3 731.4M249.5 738.3L265.3 736.2M249.5 802.3L265.3 811.8M249.5 810L265.3 814.5M249.5 825.7L265.3 830.5M249.5 841L265.3 830.9M249.5 879.3L265.3 879.6M249.5 919.3L265.3 920.4M249.5 926.7L265.3 925.8M249.5 935.7L265.3 942.4M249.5 943.3L265.3 952.7M249.5 951L265.3 956.3M249.5 958.3L265.3 978.5M249.5 966L265.3 984.4M249.5 974L265.3 986.5M249.5 982.3L265.3 994.1M249.5 990L265.3 996.4M249.5 996.7L265.3 1012.1M249.5 1009.5L265.3 1027.3M249.5 1021L265.3 1035.9M249.5 1032.9L265.3 1036.9M249.5 1044L265.3 1044.3M249.5 1052L265.3 1045.5M249.5 1060L265.3 1052.9"/>
<path class="f" d="M275.3 711L291 711M275.3 717.9L291 718.3M275.3 731.4L291 730M275.3 736.2L291 738.3M275.3 811.8L291 802.3M275.3 814.5L291 810M275.3 830.5L291 825.7M275.3 830.9L291 841M275.3 879.6L291 879.3M275.3 920.4L291 919.3M275.3 925.8L291 926.7M275.3 942.4L291 935.7M275.3 952.7L291 943.3M275.3 956.3L291 951M275.3 978.5L291 958.3M275.3 984.4L291 966M275.3 986.5L291 974M275.3 994.1L291 982.3M275.3 996.4L291 990M275.3 1012.1L291 996.7M275.3 1027.3L291 1009.5M275.3 1035.9L291 1021M275.3 1036.9L291 1032.9M275.3 1044.3L291 1044M275.3 1045.5L291 1052M275.3 1052.9L291 1060"/>
<path class="f" d="M291 814.7V836.3M291 1002.7V1016.3M291 1026V1039.7"/>
<g class="e" transform="translate(247.5)"><text y="711">0.0</text><text y="718.3">3.3</text><text y="730">9.7</text><text y="738.3">12.0</text><text y="802.3">48.0</text><text y="810">49.3</text><text y="825.7">56.9</text><text y="841">57.1</text><text y="879.3">80.3</text><text y="919.3">99.7</text><text y="926.7">102.3</text><text y="935.7">110.2</text><text y="943.3">115.1</text><text y="951">116.8</text><text y="958.3">127.4</text><text y="966">130.2</text><text y="974">131.2</text><text y="982.3">134.8</text><text y="990">135.9</text><text y="996.7">143.4</text><text y="1009.5">150.6</text><text y="1021">154.7</text><text y="1032.9">155.2</text><text y="1044">158.7</text><text y="1052">159.3</text><text y="1060">162.8</text></g>
<g transform="translate(293)"><text y="711">IPAHM569</text><text y="718.3">GM625</text><text y="730">seq14G03</text><text y="738.3">gi_0342</text><text y="802.3" class="p">RI2A06</text><text y="810" class="p">seq2F05</text><text y="817.7" class="p">TC1E01</text><text y="825.7" class="p">Ag39</text><text y="833.3">Ah3TC13E05</text><text y="841">seq14D11</text><text y="879.3">RI1F06</text><text y="919.3" class="p">PM32</text><text y="926.7">IPAHM167</text><text y="935.7">seq18E07</text><text y="943.3">TC1B02</text><text y="951">GM1538</text><text y="958.3">IPAHM524</text><text y="966">TC9F04</text><text y="974">GM2196</text><text y="982.3">seq2D12B</text><text y="990">PM99</text><text y="996.7">seq1B09</text><text y="1005.7">Ah26</text><text y="1013.3">AC2C05</text><text y="1021">seq7B03</text><text y="1029">PM73</text><text y="1036.7">seq2G04</text><text y="1044">RN0x615</text><text y="1052">seq11H01</text><text y="1060">seq4E08</text></g>
</g>

<g id="B10">
<text class="t gt" x="390" y="703">B10</text>
<path class="f" d="M360.5 711L377 711M360.5 726L377 725.7M360.5 737.3L377 737M360.5 803.3L377 803M360.5 835.7L377 844.4M360.5 843.3L377 850.2M360.5 851.7L377 851.5M360.5 859.3L377 853M360.5 867L377 857.4M360.5 875.3L377 867M360.5 886L377 888.7M360.5 893.3L377 891.8M360.5 906.7L377 906.5M360.5 961.7L377 961.7M360.5 974L377 974.6M387 711L402.5 711M387 725.7L402.5 726M387 737L402.5 737.3M387 803L402.5 803.3M387 844.4L402.5 835.7M387 850.2L402.5 843.3M387 851.5L402.5 851.7M387 853L402.5 859.3M387 857.4L402.5 867M387 867L402.5 875.3M387 888.7L402.5 886M387 891.8L402.5 893.3M387 906.5L402.5 906.7M387 961.7L402.5 961.7M387 974.6L402.5 974"/>
<rect class="gb" x="377" y="706" width="10" height="273.6" rx="5"/>
<path class="k" d="M377 725.7h10M377 737h10M377 803h10M377 844.4h10M377 850.2h10M377 851.5h10M377 853h10M377 857.4h10M377 867h10M377 888.7h10M377 891.8h10M377 906.5h10M377 961.7h10"/>
<g class="e" transform="translate(358.5)"><text y="711">0.0</text><text y="726">7.0</text><text y="737.3">12.4</text><text y="803.3">43.8</text><text y="835.7">63.5</text><text y="843.3">66.3</text><text y="851.7">66.9</text><text y="859.3">67.6</text><text y="867">69.7</text><text y="875.3">74.3</text><text y="886">84.6</text><text y="893.3">86.1</text><text y="906.7">93.1</text><text y="961.7">119.4</text><text y="974">125.5</text></g>
<g transform="translate(404.5)"><text y="711">RN22E12#</text><text y="726" class="p">seq2F05</text><text y="737.3" class="p">RI2A06</text><text y="803.3">seq14G3#</text><text y="835.7">Leg146</text><text y="843.3">seq16C3_2#</text><text y="851.7" class="p">TC1E01#</text><text y="859.3" class="p">Ag39#</text><text y="867">RN31F06#</text><text y="875.3">seq14F4#</text><text y="886">PM181#</text><text y="893.3">seq18B01</text><text y="906.7" class="p">PM32</text><text y="961.7">AHBGSI1001D02</text><text y="974">Ah-282</text></g>
</g>

<g id="b07">
<text class="t" x="509" y="703">b07</text>
<g clip-path="url(#cb07)">
<rect class="c0" x="501" y="706" width="10" height="47"/><rect class="c1" x="501" y="753" width="10" height="42"/><rect class="c2" x="501" y="795" width="10" height="42"/><rect class="c3" x="501" y="837" width="10" height="42"/><rect class="c4" x="501" y="879" width="10" height="42"/><rect class="c5" x="501" y="921" width="10" height="42"/>
</g>
<path class="k" d="M501 729.1h10M501 749.6h10M501 753.4h10M501 763.1h10M501 764.6h10M501 766.4h10M501 770h10M501 772.7h10M501 778.6h10M501 789.1h10M501 790.2h10M501 796.3h10M501 799h10M501 815h10M501 820.6h10M501 822.1h10M501 833.9h10M501 845.8h10M501 854.4h10M501 863.5h10M501 867h10M501 879.6h10M501 890.3h10M501 895h10M501 908.6h10M501 921.2h10M501 923.9h10M501 935.5h10M501 951.2h10"/>
<path class="f" d="M485 711L501 711M485 717.7L501 729.1M485 729.5L501 749.6M485 741L501 753.4M485 752.9L501 763.1M485 764.3L501 764.6M485 772L501 766.4M485 779.7L501 770M485 787.3L501 772.7M485 795.3L501 778.6M485 803L501 789.1M485 811L501 790.2M485 818.7L501 796.3M485 826.3L501 799M485 837.9L501 815M485 849.7L501 820.6M485 857.3L501 822.1M485 865L501 833.9M485 872.7L501 845.8M485 884.5L501 854.4M485 896.3L501 863.5M485 904L501 867M485 912L501 879.6M485 919.3L501 890.3M485 927.3L501 895M485 935L501 908.6M485 942.7L501 921.2M485 950L501 923.9M485 958.3L501 935.5M485 966L501 951.2"/>
<path class="f" d="M511 711L527 711M511 729.1L527 717.7M511 749.6L527 729.5M511 753.4L527 741M511 763.1L527 752.9M511 764.6L527 764.3M511 766.4L527 772M511 770L527 779.7M511 772.7L527 787.3M511 778.6L527 795.3M511 789.1L527 803M511 790.2L527 811M511 796.3L527 818.7M511 799L527 826.3M511 815L527 837.9M511 820.6L527 849.7M511 822.1L527 857.3M511 833.9L527 865M511 845.8L527 872.7M511 854.4L527 884.5M511 863.5L527 896.3M511 867L527 904M511 879.6L527 912M511 890.3L527 919.3M511 895L527 927.3M511 908.6L527 935M511 921.2L527 942.7M511 923.9L527 950M511 935.5L527 958.3M511 951.2L527 966"/>
<path class="f" d="M527 722.7V736.3M527 746V759.7M527 831V844.7M527 877.7V891.3"/>
<g class="e" transform="translate(483)"><text y="711">0.0</text><text y="717.7">8.6</text><text y="729.5">18.4</text><text y="741">20.2</text><text y="752.9">24.8</text><text y="764.3">25.5</text><text y="772">26.4</text><text y="779.7">28.1</text><text y="787.3">29.4</text><text y="795.3">32.2</text><text y="803">37.2</text><text y="811">37.7</text><text y="818.7">40.6</text><text y="826.3">41.9</text><text y="837.9">49.5</text><text y="849.7">52.2</text><text y="857.3">52.9</text><text y="865">58.5</text><text y="872.7">64.2</text><text y="884.5">68.3</text><text y="896.3">72.6</text><text y="904">74.3</text><text y="912">80.3</text><text y="919.3">85.4</text><text y="927.3">87.6</text><text y="935">94.1</text><text y="942.7">100.1</text><text y="950">101.4</text><text y="958.3">106.9</text><text y="966">114.4</text></g>
<g transform="translate(529)"><text y="711">RN13G04</text><text y="717.7">GM1953</text><text y="725.7">seq2E06</text><text y="733.3">GM2156</text><text y="741">Ah3TC41A11_1</text><text y="749">GM2073</text><text y="756.7">GM2067</text><text y="764.3">seq5D05</text><text y="772">GM1899</text><text y="779.7">PM69</text><text y="787.3">GM2745</text><text y="795.3">GM2744</text><text y="803">GM1264</text><text y="811">GM2605</text><text y="818.7">GM1076</text><text y="826.3">GA24</text><text y="834">GM1000</text><text y="841.7">seq15C10</text><text y="849.7" class="p">TC4G10</text><text y="857.3">TC9H09</text><text y="865">seq19C03</text><text y="872.7">seq19B12</text><text y="880.7">GM624</text><text y="888.3">seq14D11</text><text y="896.3">EM_30</text><text y="904">seq3C02</text><text y="912">ARS795</text><text y="919.3" class="p">TC3B09</text><text y="927.3">RM7E04</text><text y="935">TC2G05</text><text y="942.7" class="p">TC7A02</text><text y="950" class="p">TC3B04</text><text y="958.3">Ah3TC40C03_B2</text><text y="966">TC11F12</text></g>
</g>

<g id="B7">
<text class="t gt" x="622" y="703">B7</text>
<path class="f" d="M605.5 711L622 711M605.5 726.7L622 727.4M605.5 734.3L622 734.3M605.5 742.7L622 751.5M605.5 750L622 753.6M605.5 758.3L622 755.5M605.5 765.7L622 757.2M605.5 777.3L622 779.5M605.5 785.3L622 784.3M605.5 796L622 795.8M605.5 842L622 841.8M632 711L649 711M632 727.4L649 726.7M632 734.3L649 734.3M632 751.5L649 742.7M632 753.6L649 750M632 755.5L649 758.3M632 757.2L649 765.7M632 779.5L649 777.3M632 784.3L649 785.3M632 795.8L649 796M632 841.8L649 842"/>
<rect class="gb" x="622" y="706" width="10" height="140.8" rx="5"/>
<path class="k" d="M622 727.4h10M622 734.3h10M622 751.5h10M622 753.6h10M622 755.5h10M622 757.2h10M622 779.5h10M622 784.3h10M622 795.8h10"/>
<g class="e" transform="translate(603.5)"><text y="711">0.0</text><text y="726.7">7.8</text><text y="734.3">11.1</text><text y="742.7">19.3</text><text y="750">20.3</text><text y="758.3">21.2</text><text y="765.7">22.0</text><text y="777.3">32.6</text><text y="785.3">34.9</text><text y="796">40.4</text><text y="842">62.3</text></g>
<g transform="translate(651)"><text y="711" class="p">TC7A02V</text><text y="726.7" class="p">TC3B04</text><text y="734.3">AHBGSI1002D04</text><text y="742.7">gi-427</text><text y="750" class="p">TC4G10</text><text y="758.3">seq4B11</text><text y="765.7" class="p">TC3B05</text><text y="777.3">RN32F09</text><text y="785.3">Leg149</text><text y="796">pPGPseq5G9</text><text y="842">Leg196</text></g>
</g>

<g id="connectors">
<path class="cn" d="M111 107.2L147.8 32M107 132.2L143.9 81.6M107 224.1L140 285.7M102 232.4L140 379M115 249.1L143.9 192.3M109 265.8L140 402.4M107 274.2L143.9 258M98 290.9L140 353.7M107 391.1L143.9 231.5M107 432.8L140 486M108 541.4L140 432.4M107 583.1L140 666.8M107 591.5L140 650.7"/>
<path class="cn" d="M347 65.4L383.8 32M341.5 174L379.9 62.6M346 324.3L379.9 99.6M341.5 432.8L376 260.7M341.5 441.2L379.9 229.9M346.5 457.9L379.9 91M351 482.9L376 342.3"/>
<path class="cn" d="M571.8 112.3L599.9 197M575 120.5L599.9 188.7M574 145.4L599.9 165.7M575 280L599.9 71M571 333.2L599.9 79M571 410.7L599.9 116.7"/>
<path class="cn" d="M104.3 795.3L125.9 785.3M108.5 857.3L125.9 768.3M108 880L125.9 878.3M101.5 971.7L125.9 816M88.7 987.3L125.9 800.7M92.5 1174.3L125.9 808.3"/>
<path class="cn" d="M318.7 802.3L342.9 737.3M323 810L346.8 726M320.7 817.7L342.9 851.7M312 825.7L342.9 859.3M313.3 919.3L342.9 906.7"/>
<path class="cn" d="M557.5 849.7L587.9 750M557 919.3L587.9 765.7M557 942.7L591.8 711M557 950L591.8 726.7"/>
</g>
</svg>
